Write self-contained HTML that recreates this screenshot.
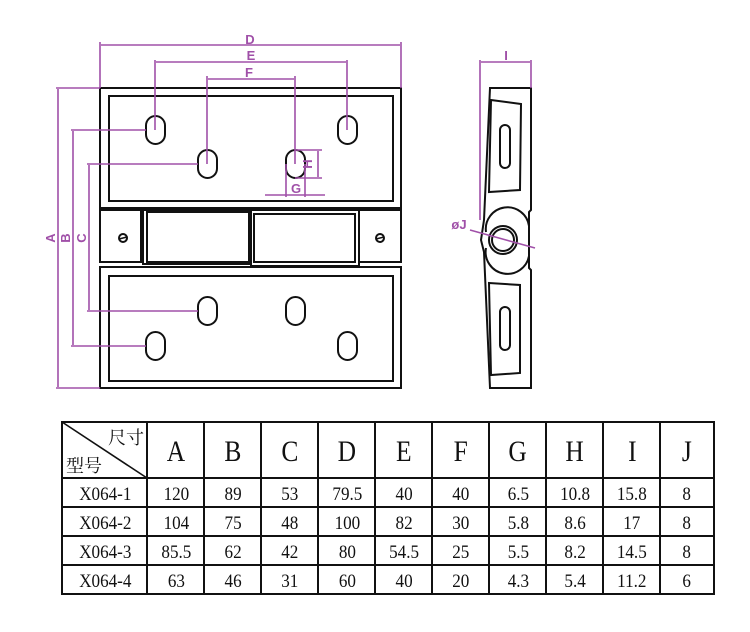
<!DOCTYPE html>
<html><head><meta charset="utf-8"><style>
body{margin:0;background:#fff;width:750px;height:632px;overflow:hidden}
svg{display:block}
.t{font-family:"Liberation Serif","Noto Serif CJK SC",serif;fill:#111;text-anchor:middle}
.p{stroke:#a050a8;stroke-width:1.6;fill:none}
.pl{font-family:"Liberation Sans",sans-serif;fill:#a050a8;font-size:13px;font-weight:bold;text-anchor:middle}
.k{stroke:#111;stroke-width:2;fill:none}
</style></head><body>
<svg width="750" height="632" viewBox="0 0 750 632">
<rect class="k" x="100" y="88" width="301" height="120"/>
<rect class="k" x="109" y="96" width="284" height="105"/>
<rect class="k" x="100" y="210" width="41" height="52"/>
<rect class="k" x="359" y="210" width="42" height="52"/>
<rect class="k" x="143" y="210" width="108" height="54"/>
<rect class="k" x="147" y="212" width="102" height="50" stroke-width="1.4"/>
<rect class="k" x="251" y="210" width="108" height="56"/>
<rect class="k" x="254" y="214" width="101" height="48" stroke-width="1.4"/>
<rect class="k" x="100" y="267" width="301" height="121"/>
<rect class="k" x="109" y="276" width="284" height="105"/>
<g class="k">
<rect x="146" y="116" width="19" height="28" rx="9.5"/>
<rect x="338" y="116" width="19" height="28" rx="9.5"/>
<rect x="198" y="150" width="19" height="28" rx="9.5"/>
<rect x="286" y="150" width="19" height="28" rx="9.5"/>
<rect x="198" y="297" width="19" height="28" rx="9.5"/>
<rect x="286" y="297" width="19" height="28" rx="9.5"/>
<rect x="146" y="332" width="19" height="28" rx="9.5"/>
<rect x="338" y="332" width="19" height="28" rx="9.5"/>
<circle cx="123" cy="238" r="4"/><circle cx="380" cy="238" r="4"/>
</g>
<line x1="119" y1="239" x2="127" y2="237" stroke="#111" stroke-width="1.5"/>
<line x1="376" y1="239" x2="384" y2="237" stroke="#111" stroke-width="1.5"/>
<g class="p">
<path d="M100 88V42M401 88V42M101 45H400"/>
<path d="M155 130V60M347 130V60M156 62H346"/>
<path d="M207 164V76M295 164V76M208 79H294"/>
<path d="M100 88H56M100 388H56M58 89V387"/>
<path d="M146 130H71M146 346H71M73 131V345"/>
<path d="M198 164H87M198 311H87M89 165V310"/>
<path d="M295 150H322M295 178H322M318 151V177"/>
<path d="M286 164V197M305 164V197M265 195H325"/>
</g>
<text class="pl" x="250" y="44">D</text>
<text class="pl" x="251" y="60">E</text>
<text class="pl" x="249" y="77">F</text>
<text class="pl" x="296" y="193">G</text>
<text class="pl" transform="translate(312,164) rotate(-90)">H</text>
<text class="pl" transform="translate(55,238) rotate(-90)">A</text>
<text class="pl" transform="translate(70,238) rotate(-90)">B</text>
<text class="pl" transform="translate(86,238) rotate(-90)">C</text>
<path class="k" d="M490 88H531V210L529 212V268L531 270V388H490L484 252L481 240L484 220Z"/>
<path class="k" d="M491 100L521 104L520 190L489 192Z"/>
<path class="k" d="M489 283L520 285L520 373L491 375Z"/>
<rect class="k" x="500" y="125" width="10" height="43" rx="5"/>
<rect class="k" x="500" y="307" width="10" height="43" rx="5"/>
<path class="k" d="M486 232A21 21 0 0 1 529 226M486 248A21 21 0 0 0 529 256"/>
<circle class="k" cx="503" cy="240" r="14"/>
<circle class="k" cx="503" cy="240" r="11"/>
<g class="p"><path d="M480 60V220M531 60V88M481 62H530M470 230L535 248"/></g>
<text class="pl" x="506" y="60">I</text>
<text class="pl" x="459" y="229" font-size="12">øJ</text>
<g stroke="#111" stroke-width="2" fill="none">
<rect x="62" y="422" width="652" height="172"/>
<path d="M62 478H714M62 507H714M62 536H714M62 565H714"/>
<path d="M147 422V594M204 422V594M261 422V594M318 422V594M375 422V594M432 422V594M489 422V594M546 422V594M603 422V594M660 422V594"/>
<path d="M62 422L147 478" stroke-width="1.6"/>
</g>
<g class="t" font-size="18">
<text x="126" y="444">尺寸</text>
<text x="84" y="472">型号</text>
</g>
<g class="t" font-size="30" transform="scale(0.85,1)">
<text x="207" y="461">A</text><text x="274" y="461">B</text><text x="341" y="461">C</text><text x="408" y="461">D</text><text x="475" y="461">E</text><text x="542" y="461">F</text><text x="609" y="461">G</text><text x="676" y="461">H</text><text x="744" y="461">I</text><text x="808" y="461">J</text>
</g>
<g class="t" font-size="19" transform="scale(0.9,1)">
<text x="117" y="500">X064-1</text><text x="196" y="500">120</text><text x="259" y="500">89</text><text x="322" y="500">53</text><text x="386" y="500">79.5</text><text x="449" y="500">40</text><text x="512" y="500">40</text><text x="576" y="500">6.5</text><text x="639" y="500">10.8</text><text x="702" y="500">15.8</text><text x="763" y="500">8</text>
<text x="117" y="529">X064-2</text><text x="196" y="529">104</text><text x="259" y="529">75</text><text x="322" y="529">48</text><text x="386" y="529">100</text><text x="449" y="529">82</text><text x="512" y="529">30</text><text x="576" y="529">5.8</text><text x="639" y="529">8.6</text><text x="702" y="529">17</text><text x="763" y="529">8</text>
<text x="117" y="558">X064-3</text><text x="196" y="558">85.5</text><text x="259" y="558">62</text><text x="322" y="558">42</text><text x="386" y="558">80</text><text x="449" y="558">54.5</text><text x="512" y="558">25</text><text x="576" y="558">5.5</text><text x="639" y="558">8.2</text><text x="702" y="558">14.5</text><text x="763" y="558">8</text>
<text x="117" y="587">X064-4</text><text x="196" y="587">63</text><text x="259" y="587">46</text><text x="322" y="587">31</text><text x="386" y="587">60</text><text x="449" y="587">40</text><text x="512" y="587">20</text><text x="576" y="587">4.3</text><text x="639" y="587">5.4</text><text x="702" y="587">11.2</text><text x="763" y="587">6</text>
</g>
</svg>
</body></html>
